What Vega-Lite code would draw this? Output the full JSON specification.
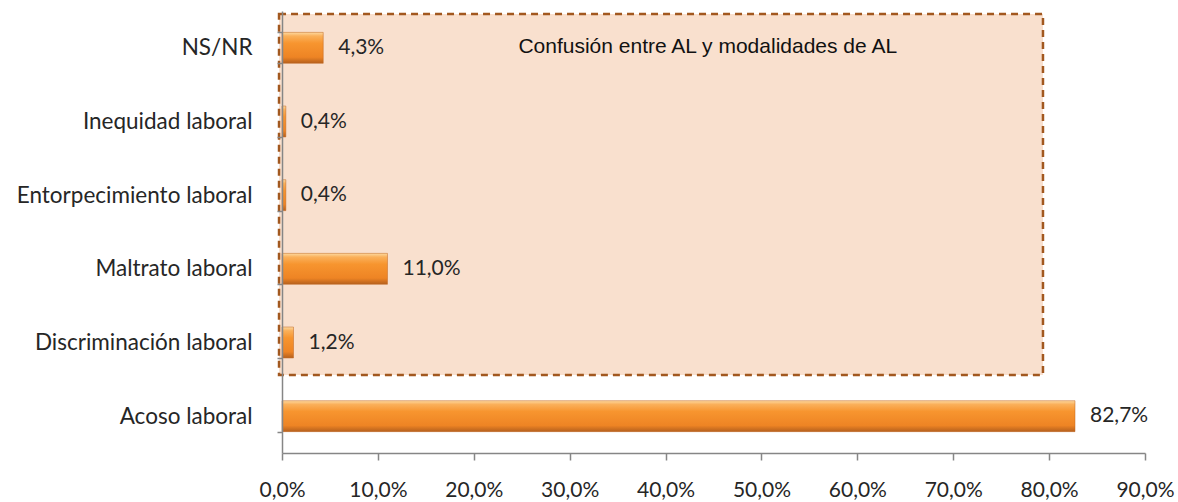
{
  "$schema": "https://vega.github.io/schema/vega-lite/v6.json",
  "width": 863,
  "height": 442,
  "autosize": {"type": "none"},
  "padding": {"left": 282, "top": 11, "right": 33, "bottom": 49},
  "background": "white",
  "config": {
    "view": {"stroke": null},
    "locale": {"number": {"decimal": ",", "thousands": ".", "grouping": [3], "currency": ["", " €"]}}
  },
  "datasets": {
    "bars": [
      {"categoria": "NS/NR", "valor": 0.043},
      {"categoria": "Inequidad laboral", "valor": 0.004},
      {"categoria": "Entorpecimiento laboral", "valor": 0.004},
      {"categoria": "Maltrato laboral", "valor": 0.110},
      {"categoria": "Discriminación laboral", "valor": 0.012},
      {"categoria": "Acoso laboral", "valor": 0.827}
    ],
    "box": [
      {"x1": -0.0031, "x2": 0.7936, "y1": 1.06, "y2": 5.96, "xm": 0.444, "ym": 5.51, "texto": "Confusión entre AL y modalidades de AL"}
    ]
  },
  "layer": [
    {
      "data": {"name": "box"},
      "layer": [
        {
          "mark": {"type": "rect", "fill": "#F9E0CE", "stroke": "#A2581F", "strokeWidth": 2.5, "strokeDash": [7, 5]},
          "encoding": {
            "x": {"field": "x1", "type": "quantitative", "scale": {"domain": [0, 0.9], "nice": false, "zero": false}},
            "x2": {"field": "x2"},
            "y": {"field": "y1", "type": "quantitative", "scale": {"domain": [0, 6], "nice": false}, "axis": null},
            "y2": {"field": "y2"}
          }
        },
        {
          "mark": {"type": "text", "font": "Liberation Sans", "fontSize": 21, "color": "#111111", "align": "center", "baseline": "middle"},
          "encoding": {
            "x": {"field": "xm", "type": "quantitative"},
            "y": {"field": "ym", "type": "quantitative"},
            "text": {"field": "texto"}
          }
        }
      ]
    },
    {
      "data": {"name": "bars"},
      "layer": [
        {
          "mark": {
            "type": "bar",
            "stroke": "#C0651E",
            "strokeWidth": 0.5,
            "fill": {
              "gradient": "linear", "x1": 0, "y1": 0, "x2": 0, "y2": 1,
              "stops": [
                {"offset": 0, "color": "#FDD9A0"},
                {"offset": 0.12, "color": "#FAB05A"},
                {"offset": 0.35, "color": "#F7952F"},
                {"offset": 0.8, "color": "#EE8424"},
                {"offset": 1, "color": "#B5601D"}
              ]
            }
          },
          "encoding": {
            "y": {
              "field": "categoria", "type": "nominal", "sort": null,
              "scale": {"paddingInner": 0.58, "paddingOuter": 0.29},
              "axis": {
                "title": null, "zindex": 1, "orient": "left",
                "domainColor": "#868686", "domainWidth": 1.5,
                "tickColor": "#868686", "tickSize": 5, "tickBand": "extent", "tickWidth": 1.5,
                "labelFont": "Lato", "labelFontSize": 22.5, "labelColor": "#262626", "labelPadding": 25,
                "labelLimit": 0
              }
            },
            "x": {
              "field": "valor", "type": "quantitative",
              "scale": {"domain": [0, 0.9], "nice": false},
              "axis": {
                "title": null, "format": ".1%", "values": [0, 0.1, 0.2, 0.3, 0.4, 0.5, 0.6, 0.7, 0.8, 0.9],
                "grid": false, "domainColor": "#868686", "domainWidth": 1.5,
                "tickColor": "#868686", "tickSize": 7, "tickWidth": 1.5,
                "labelFont": "Lato", "labelFontSize": 21, "labelColor": "#262626", "labelPadding": 19,
                "labelFlush": false, "labelOverlap": false
              }
            }
          }
        },
        {
          "mark": {"type": "text", "align": "left", "baseline": "middle", "dx": 15, "font": "Lato", "fontSize": 21, "color": "#262626"},
          "encoding": {
            "y": {"field": "categoria", "type": "nominal", "sort": null},
            "x": {"field": "valor", "type": "quantitative"},
            "text": {"field": "valor", "type": "quantitative", "format": ".1%"}
          }
        }
      ]
    }
  ],
  "resolve": {"scale": {"y": "independent"}, "axis": {"y": "independent"}}
}
